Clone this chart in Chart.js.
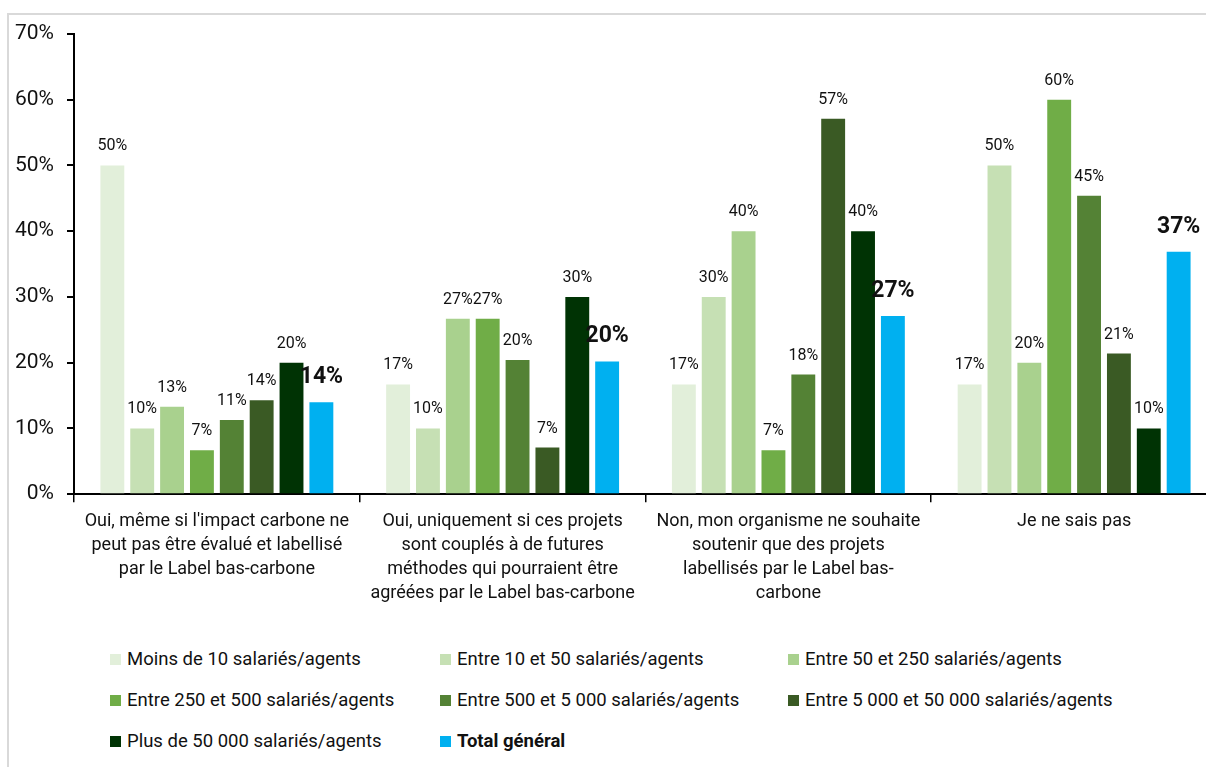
<!DOCTYPE html>
<html>
<head>
<meta charset="utf-8">
<script src="https://cdn.jsdelivr.net/npm/chart.js@4.4.1/dist/chart.umd.min.js"></script>
<style>
  html, body { margin: 0; padding: 0; background: #fff; overflow: hidden; width: 1206px; height: 767px; }
  #frame { position: absolute; left: 7px; top: 13px; width: 1300px; height: 800px; border-left: 2px solid #d9d9d9; border-top: 2px solid #d9d9d9; }
  #wrap { position: absolute; left: 0; top: 0; width: 1230px; height: 620px; }
  #legend { position: absolute; left: 110px; top: 648px; width: 1100px; font-family: Roboto, sans-serif; font-size: 18.5px; color: #111; }
  .item { position: absolute; display: flex; align-items: center; white-space: nowrap; }
  .box { width: 11px; height: 11px; margin-right: 6px; }
</style>
</head>
<body>
<div id="frame"></div>
<div id="wrap"><canvas id="c" width="1230" height="620"></canvas></div>
<div id="legend"></div>
<script>
const categories = [
  ["Oui, même si l'impact carbone ne", "peut pas être évalué et labellisé", "par le Label bas-carbone"],
  ["Oui, uniquement si ces projets", "sont couplés à de futures", "méthodes qui pourraient être", "agréées par le Label bas-carbone"],
  ["Non, mon organisme ne souhaite", "soutenir que des projets", "labellisés par le Label bas-", "carbone"],
  ["Je ne sais pas"]
];
const seriesNames = [
  "Moins de 10 salariés/agents",
  "Entre 10 et 50 salariés/agents",
  "Entre 50 et 250 salariés/agents",
  "Entre 250 et 500 salariés/agents",
  "Entre 500 et 5 000 salariés/agents",
  "Entre 5 000 et 50 000 salariés/agents",
  "Plus de 50 000 salariés/agents",
  "Total général"
];
const moins10 = [50, 16.7, 16.7, 16.7];
const de10a50 = [10, 10, 30, 50];
const de50a250 = [13.3, 26.7, 40, 20];
const de250a500 = [6.7, 26.7, 6.7, 60];
const de500a5000 = [11.3, 20.4, 18.2, 45.4];
const de5000a50000 = [14.3, 7.1, 57.1, 21.4];
const plus50000 = [20, 30, 40, 10];
const totalGeneral = [14.0, 20.2, 27.1, 36.9];
const yTicks = [0, 10, 20, 30, 40, 50, 60, 70];

const seriesValues = [moins10, de10a50, de50a250, de250a500, de500a5000, de5000a50000, plus50000, totalGeneral];
const colors = ["#E2EFDA", "#C6E0B4", "#A9D18E", "#70AD47", "#548235", "#3A5A24", "#003304", "#00B0F0"];

const FONT = "Roboto, sans-serif";

const dataLabels = {
  id: 'dataLabels',
  afterDatasetsDraw(chart) {
    const ctx = chart.ctx;
    chart.data.datasets.forEach((ds, di) => {
      const meta = chart.getDatasetMeta(di);
      const isTotal = di === 7;
      meta.data.forEach((bar, i) => {
        const v = ds.data[i];
        ctx.save();
        ctx.fillStyle = '#111';
        ctx.textAlign = 'center';
        ctx.textBaseline = 'alphabetic';
        ctx.font = isTotal ? `bold 23px ${FONT}` : `16px ${FONT}`;
        ctx.fillText(Math.round(v) + '%', bar.x, bar.y - (isTotal ? 19 : 15));
        ctx.restore();
      });
    });
  }
};

const chart = new Chart(document.getElementById('c'), {
  type: 'bar',
  data: {
    labels: categories,
    datasets: seriesValues.map((d, i) => ({
      label: seriesNames[i],
      data: d,
      backgroundColor: colors[i],
      borderWidth: 0,
      categoryPercentage: 0.836,
      barPercentage: 0.8
    }))
  },
  options: {
    responsive: false,
    animation: false,
    layout: { padding: { left: 2, right: 13, top: 34, bottom: 8 } },
    plugins: { legend: { display: false }, tooltip: { enabled: false } },
    scales: {
      x: {
        grid: { display: true, drawOnChartArea: false, offset: true, tickLength: 8, color: '#000', lineWidth: 1.5 },
        border: { display: true, color: '#000', width: 2 },
        ticks: { font: { family: FONT, size: 18, lineHeight: 1.33 }, color: '#111', maxRotation: 0, autoSkip: false, padding: 7 }
      },
      y: {
        min: 0, max: 70,
        afterBuildTicks(axis) { axis.ticks = yTicks.map(v => ({ value: v })); },
        grid: { display: true, drawOnChartArea: false, tickLength: 7, color: '#000', lineWidth: 2 },
        border: { display: true, color: '#000', width: 2 },
        ticks: { font: { family: FONT, size: 21 }, color: '#111', padding: 13, callback: v => v + '%' }
      }
    }
  },
  plugins: [dataLabels]
});

// HTML legend built from series
const legend = document.getElementById('legend');
const colX = [0, 330, 678];
seriesNames.forEach((name, i) => {
  const el = document.createElement('div');
  el.className = 'item';
  el.style.left = colX[i % 3] + 'px';
  el.style.top = (Math.floor(i / 3) * 41) + 'px';
  if (i === 7) el.style.fontWeight = 'bold';
  el.innerHTML = `<span class="box" style="background:${colors[i]}"></span><span></span>`;
  el.lastChild.textContent = name;
  legend.appendChild(el);
});
</script>
</body>
</html>
